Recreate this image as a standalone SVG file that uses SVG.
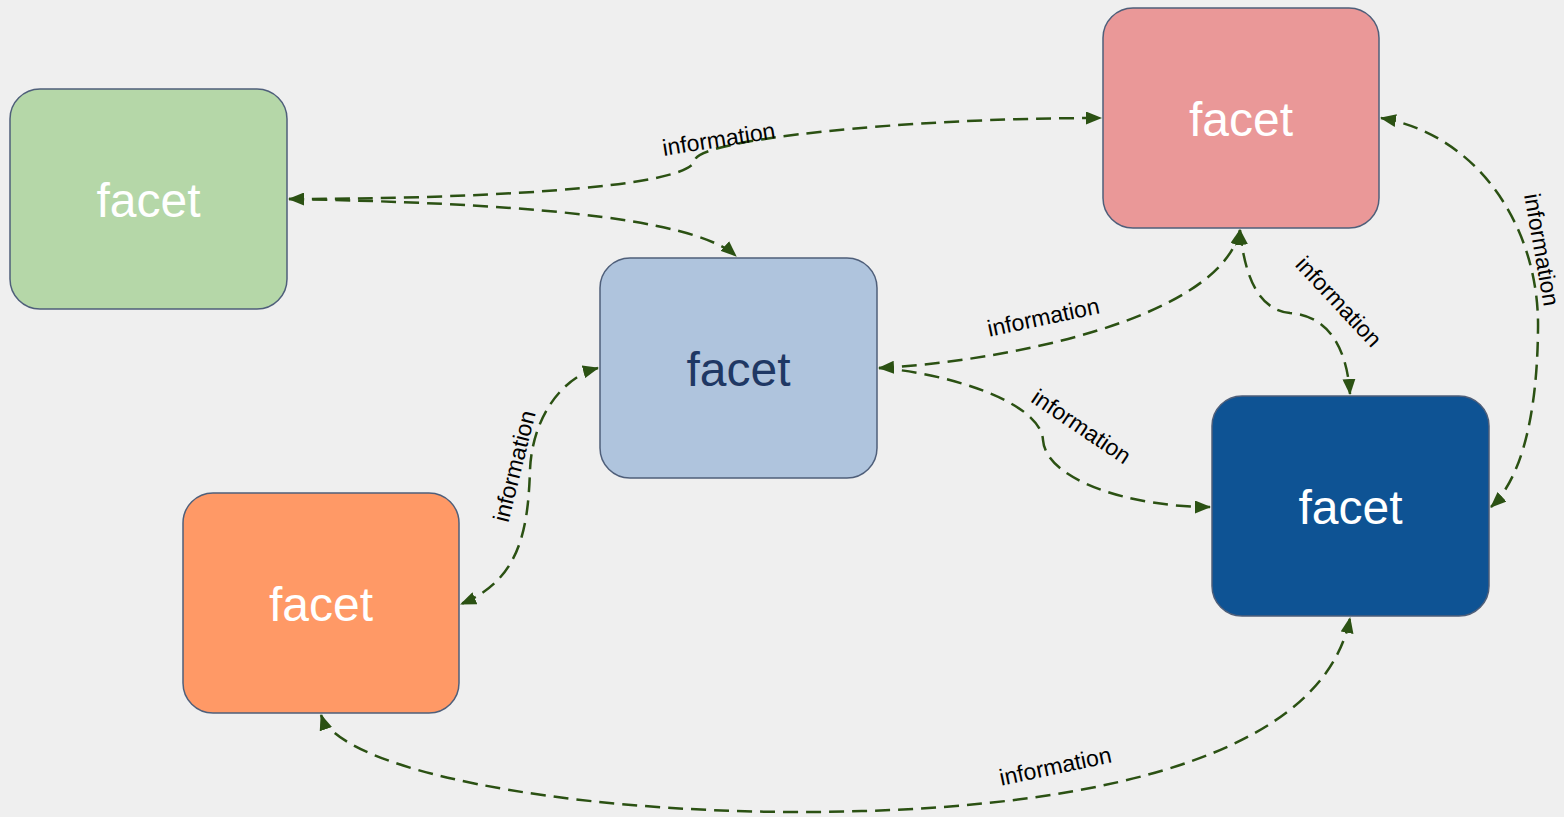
<svg xmlns="http://www.w3.org/2000/svg" width="1564" height="817" viewBox="0 0 1564 817">
<defs>
<marker id="ah" viewBox="0 0 16 13" refX="15" refY="6.5" markerWidth="16" markerHeight="13" markerUnits="userSpaceOnUse" orient="auto-start-reverse">
<path d="M0,0 L16,6.5 L0,13 Z" fill="#2b5113"/>
</marker>
<style>
.node rect{stroke:#4f5f7a;stroke-width:1.5}
.node text{font-family:"Liberation Sans",Arial,sans-serif;font-size:48px;text-anchor:middle;fill:#ffffff}
.edge{fill:none;stroke:#2b5113;stroke-width:2.5;stroke-dasharray:15 8;marker-start:url(#ah);marker-end:url(#ah)}
.one{marker-start:none}
.lbl{font-family:"Liberation Sans",Arial,sans-serif;font-size:23px;text-anchor:middle;fill:#000000}
</style>
</defs>
<rect x="0" y="0" width="1564" height="817" fill="#efefef"/>
<g id="connectors">
<path class="edge" d="M289,199 C450,199 690,190 695,160 C698,140 900,118 1101,118"/>
<path class="edge one" d="M289,199 C500,203 690,215 736,256"/>
<path class="edge" d="M879,368 C1000,362 1220,320 1240,230"/>
<path class="edge one" d="M879,368 C940,372 1040,400 1043,440 C1046,480 1130,507 1210,507"/>
<path class="edge" d="M1240,230 C1245,280 1260,310 1290,313 C1330,316 1347,350 1350,394"/>
<path class="edge" d="M1381,118 C1480,135 1540,230 1538,330 C1537,420 1520,480 1491,507"/>
<path class="edge" d="M598,368 C560,378 532,420 530,470 C528,530 520,580 461,604"/>
<path class="edge" d="M321,715 C340,770 560,812 800,812 C1050,812 1320,770 1350,618"/>
<text class="lbl" transform="translate(720,147) rotate(-9)">information</text>
<text class="lbl" transform="translate(1045,325) rotate(-12)">information</text>
<text class="lbl" transform="translate(1077,433) rotate(34)">information</text>
<text class="lbl" transform="translate(1333,307) rotate(47)">information</text>
<text class="lbl" transform="translate(1534,251) rotate(80)">information</text>
<text class="lbl" transform="translate(522,468) rotate(-76)">information</text>
<text class="lbl" transform="translate(1057,774) rotate(-12)">information</text>
</g>
<g id="node-green" class="node"><rect x="10" y="89" width="277" height="220" rx="30" fill="#b5d7a8"/><text x="148.5" y="217">facet</text></g>
<g id="node-lightblue" class="node"><rect x="600" y="258" width="277" height="220" rx="30" fill="#afc4dd"/><text x="738.5" y="386" style="fill:#1f3864">facet</text></g>
<g id="node-pink" class="node"><rect x="1103" y="8" width="276" height="220" rx="30" fill="#ea9898"/><text x="1241" y="136">facet</text></g>
<g id="node-darkblue" class="node"><rect x="1212" y="396" width="277" height="220" rx="30" fill="#0e5394"/><text x="1350.5" y="524">facet</text></g>
<g id="node-orange" class="node"><rect x="183" y="493" width="276" height="220" rx="30" fill="#ff9966"/><text x="321" y="621">facet</text></g>
</svg>
